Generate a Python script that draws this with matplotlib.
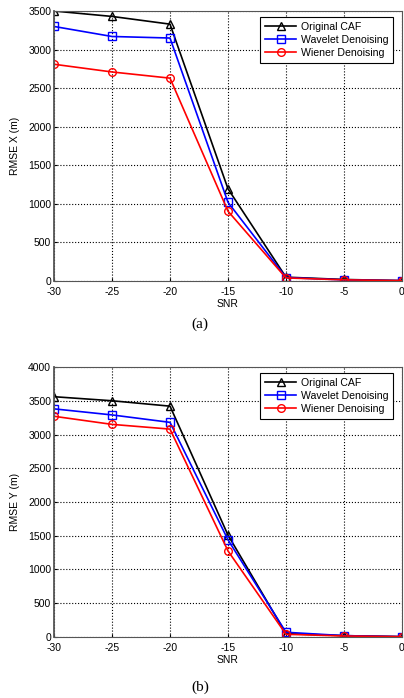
import numpy as np
import matplotlib
matplotlib.use('Agg')
import matplotlib.pyplot as plt

plt.rcParams['font.family'] = ['Liberation Sans', 'DejaVu Sans']
plt.rcParams['axes.unicode_minus'] = False

# данные
snr = [-30, -25, -20, -15, -10, -5, 0]
labels = ['Original CAF', 'Wavelet Denoising', 'Wiener Denoising']

# (a) RMSE X
x_orig = [3500, 3430, 3330, 1195, 50, 20, 5]
x_wave = [3300, 3170, 3150, 1020, 45, 15, 5]
x_wien = [2810, 2710, 2630, 905, 40, 15, 5]

# (b) RMSE Y
y_orig = [3560, 3500, 3420, 1510, 50, 20, 5]
y_wave = [3380, 3290, 3180, 1440, 70, 20, 5]
y_wien = [3270, 3150, 3080, 1275, 40, 15, 5]

yticks_a = [0, 500, 1000, 1500, 2000, 2500, 3000, 3500]
yticks_b = [0, 500, 1000, 1500, 2000, 2500, 3000, 3500, 4000]

styles = [('k', '^'), ('b', 's'), ('r', 'o')]

fig = plt.figure(figsize=(4.04, 6.98), dpi=100)
ax1 = fig.add_axes([0.1337, 0.5974, 0.8613, 0.3868])
ax2 = fig.add_axes([0.1337, 0.0874, 0.8613, 0.3868])


def draw(ax, series, yticks, ylabel, tag, tag_y):
    for (c, m), vals, lab in zip(styles, series, labels):
        ax.plot(snr, vals, color=c, marker=m, markerfacecolor='none',
                markeredgecolor=c, markersize=5.5, lw=1.2, label=lab)
    ax.set_xlim(-30, 0)
    ax.set_ylim(yticks[0], yticks[-1])
    ax.set_xticks(snr)
    ax.set_yticks(yticks)
    ax.grid(True, ls=':', color='k', lw=0.8)
    ax.tick_params(labelsize=7.5, length=2, direction='in')
    ax.tick_params(axis='x', pad=4)
    ax.tick_params(axis='y', pad=2)
    for s in ax.spines.values():
        s.set_color('#555555')
    ax.spines['left'].set_linewidth(1.3)
    ax.set_xlabel('SNR', fontsize=7.5, labelpad=2)
    ax.set_ylabel(ylabel, fontsize=7.5, labelpad=6)
    leg = ax.legend(loc='upper right', fontsize=7.6, fancybox=False,
                    framealpha=1, edgecolor='k', borderpad=0.45,
                    labelspacing=0.3, handlelength=3.0, handletextpad=0.4,
                    borderaxespad=0, bbox_to_anchor=(0.974, 0.978))
    leg.get_frame().set_linewidth(0.8)
    fig.text(0.495, tag_y, tag, family='Liberation Serif', fontsize=11,
             ha='center', va='center')


draw(ax1, [x_orig, x_wave, x_wien], yticks_a, 'RMSE X (m)', '(a)', 1 - 324 / 698)
draw(ax2, [y_orig, y_wave, y_wien], yticks_b, 'RMSE Y (m)', '(b)', 1 - 687 / 698)

fig.savefig('out.png', dpi=100, facecolor='white')
